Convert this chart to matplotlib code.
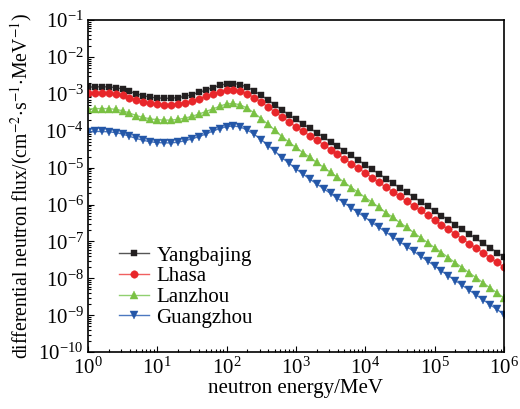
import numpy as np
import matplotlib
matplotlib.use("Agg")
import matplotlib.pyplot as plt
from matplotlib.ticker import LogLocator, NullFormatter

plt.rcParams['font.family'] = ['Liberation Serif', 'DejaVu Serif']
plt.rcParams['mathtext.fontset'] = 'stix'

# energy grid: 10 points per decade, 1 MeV .. 1e6 MeV
energy = np.logspace(0, 6, 61)

# log10 of differential flux at each energy
yangbajing_log = [
    -2.82, -2.81, -2.81, -2.81, -2.83, -2.87, -2.93, -3.00, -3.05, -3.09,
    -3.11, -3.12, -3.12, -3.10, -3.07, -3.02, -2.96, -2.90, -2.83, -2.77,
    -2.73, -2.72, -2.75, -2.82, -2.92, -3.04, -3.17, -3.30, -3.44, -3.57,
    -3.69, -3.81, -3.93, -4.05, -4.17, -4.30, -4.42, -4.55, -4.67, -4.80,
    -4.92, -5.05, -5.17, -5.30, -5.42, -5.55, -5.67, -5.80, -5.92, -6.05,
    -6.17, -6.30, -6.42, -6.55, -6.67, -6.80, -6.92, -7.05, -7.17, -7.30,
    -7.42]
lhasa_log = [
    -2.99, -2.98, -2.98, -2.98, -3.00, -3.04, -3.10, -3.17, -3.22, -3.26,
    -3.28, -3.29, -3.29, -3.27, -3.24, -3.19, -3.13, -3.07, -3.00, -2.94,
    -2.90, -2.89, -2.93, -3.00, -3.10, -3.22, -3.36, -3.49, -3.63, -3.76,
    -3.89, -4.01, -4.13, -4.25, -4.38, -4.51, -4.63, -4.76, -4.89, -5.02,
    -5.14, -5.27, -5.40, -5.53, -5.65, -5.78, -5.91, -6.04, -6.16, -6.29,
    -6.42, -6.55, -6.67, -6.80, -6.93, -7.06, -7.18, -7.31, -7.44, -7.57,
    -7.69]
lanzhou_log = [
    -3.41, -3.40, -3.40, -3.40, -3.42, -3.46, -3.52, -3.59, -3.64, -3.68,
    -3.70, -3.71, -3.71, -3.69, -3.66, -3.61, -3.55, -3.48, -3.41, -3.34,
    -3.27, -3.26, -3.30, -3.39, -3.52, -3.67, -3.83, -3.99, -4.16, -4.31,
    -4.45, -4.59, -4.72, -4.86, -4.99, -5.13, -5.26, -5.40, -5.54, -5.67,
    -5.81, -5.94, -6.08, -6.22, -6.35, -6.49, -6.62, -6.76, -6.90, -7.03,
    -7.17, -7.30, -7.44, -7.58, -7.71, -7.85, -7.98, -8.12, -8.26, -8.39,
    -8.53]
guangzhou_log = [
    -4.04, -4.02, -4.02, -4.03, -4.05, -4.09, -4.15, -4.21, -4.26, -4.30,
    -4.32, -4.33, -4.33, -4.31, -4.27, -4.22, -4.16, -4.09, -4.01, -3.94,
    -3.89, -3.87, -3.90, -3.98, -4.10, -4.24, -4.40, -4.56, -4.73, -4.88,
    -5.03, -5.17, -5.31, -5.44, -5.57, -5.70, -5.83, -5.96, -6.09, -6.22,
    -6.35, -6.49, -6.62, -6.75, -6.88, -7.01, -7.14, -7.27, -7.40, -7.53,
    -7.66, -7.80, -7.93, -8.06, -8.19, -8.32, -8.45, -8.58, -8.71, -8.84,
    -8.98]

sites = ["Yangbajing", "Lhasa", "Lanzhou", "Guangzhou"]
series = [yangbajing_log, lhasa_log, lanzhou_log, guangzhou_log]
markers = ["s", "o", "^", "v"]
marker_sizes = [4.8, 5.4, 5.8, 5.8]
marker_colors = ["#231f20", "#e8262a", "#7ac143", "#2457a8"]
line_colors = ["#555555", "#f06060", "#90d070", "#4c78c0"]

fig = plt.figure(figsize=(5.2, 4.09), dpi=100)
ax = fig.add_axes([0.169, 0.139, 0.800, 0.812])

for name, vals, mk, ms, mc, lc in zip(sites, series, markers, marker_sizes,
                                      marker_colors, line_colors):
    ax.plot(energy, 10.0 ** np.array(vals), color=lc, linewidth=1.0,
            marker=mk, markersize=ms, markerfacecolor=mc,
            markeredgecolor=mc, markeredgewidth=0.3, label=name)

ax.set_xscale("log")
ax.set_yscale("log")
ax.set_xlim(1, 1e6)
ax.set_ylim(1e-10, 1e-1)

ax.xaxis.set_major_locator(LogLocator(base=10, numticks=10))
ax.xaxis.set_minor_locator(LogLocator(base=10, subs=np.arange(2, 10), numticks=100))
ax.yaxis.set_major_locator(LogLocator(base=10, numticks=12))
ax.yaxis.set_minor_locator(LogLocator(base=10, subs=np.arange(2, 10), numticks=100))
ax.xaxis.set_minor_formatter(NullFormatter())
ax.yaxis.set_minor_formatter(NullFormatter())

ax.tick_params(which="both", direction="in", labelsize=15, width=0.8)
ax.tick_params(which="major", length=4)
ax.tick_params(which="minor", length=2)
ax.tick_params(axis="x", pad=4)
ax.tick_params(axis="y", pad=3)
for sp in ax.spines.values():
    sp.set_linewidth(1.2)

ax.set_xlabel("neutron energy/MeV", fontsize=15, labelpad=0)
ax.set_ylabel(r"differential neutron flux/(cm$^{-2}$$\cdot$s$^{-1}$$\cdot$MeV$^{-1}$)",
              fontsize=14.2, labelpad=3)

ax.legend(loc="lower left", bbox_to_anchor=(0.04, 0.03), frameon=False,
          fontsize=15, handlelength=1.45, handletextpad=0.35,
          labelspacing=0.05, borderpad=0.2)

fig.savefig("out.png", dpi=100)
